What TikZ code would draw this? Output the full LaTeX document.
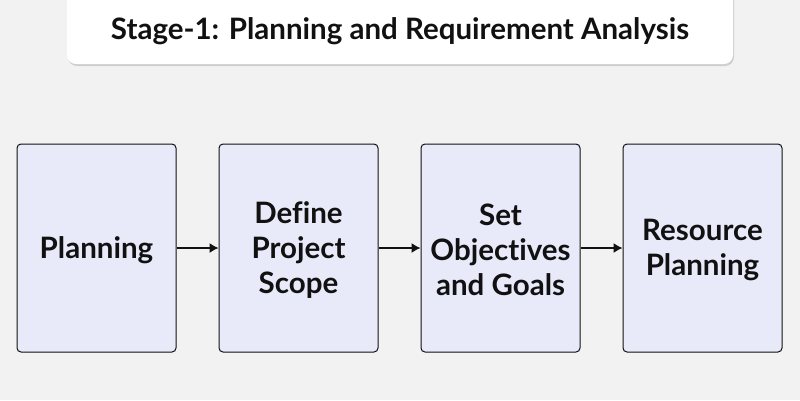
\documentclass[tikz,border=0pt]{standalone}
\usepackage{fontspec}
\setmainfont{Lato}[Ligatures={NoCommon}]
\usetikzlibrary{arrows.meta,shadows}
\definecolor{bg}{HTML}{F2F2F2}
\definecolor{boxfill}{HTML}{E8EAFA}
\definecolor{ink}{HTML}{111111}
\tikzset{
  stagebox/.style={draw=ink, line width=1pt, fill=boxfill, rounded corners=4pt,
    minimum width=159pt, minimum height=208pt, inner sep=0pt,
    align=center, font=\bfseries\fontsize{29.5}{35}\selectfont, text=ink},
  titlebox/.style={fill=white, rounded corners=9pt, inner sep=0pt,
    drop shadow={shadow xshift=1pt, shadow yshift=-2pt, opacity=0.25, fill=black!60}},
  flow/.style={-{Latex[length=9pt,width=10pt]}, line width=1.2pt, draw=ink}
}
\begin{document}
\begin{tikzpicture}[x=1pt,y=-1pt]
\useasboundingbox (0,0) rectangle (800,400);
\fill[bg] (0,0) rectangle (800,400);
\begin{scope}
\clip (0,0) rectangle (800,400);
\node[titlebox, minimum width=666pt, minimum height=80pt] (title) at (400,24) {};
\end{scope}
\node[font=\bfseries\fontsize{29.5}{32}\selectfont, text=ink] (ttext) at (400,31) {Stage-1: Planning and Requirement Analysis};
\node[stagebox] (b1) at (96.5,248) {};
\node[stagebox] (b2) at (298.5,248) {};
\node[stagebox] (b3) at (500.5,248) {};
\node[stagebox] (b4) at (702.5,248) {};
\begin{scope}[every node/.style={align=center, font=\bfseries\fontsize{29.5}{35}\selectfont, text=ink}]
\node (t1) at ([yshift=-2pt]b1.center) {Planning};
\node (t2) at ([yshift=-2pt]b2.center) {Define\\Project\\Scope};
\node (t3) at ([yshift=-2pt]b3.center) {Set\\Objectives\\and Goals};
\node (t4) at ([yshift=-2pt]b4.center) {Resource\\Planning};
\end{scope}
\draw[flow] (b1) -- (b2);
\draw[flow] (b2) -- (b3);
\draw[flow] (b3) -- (b4);
\end{tikzpicture}
\end{document}
